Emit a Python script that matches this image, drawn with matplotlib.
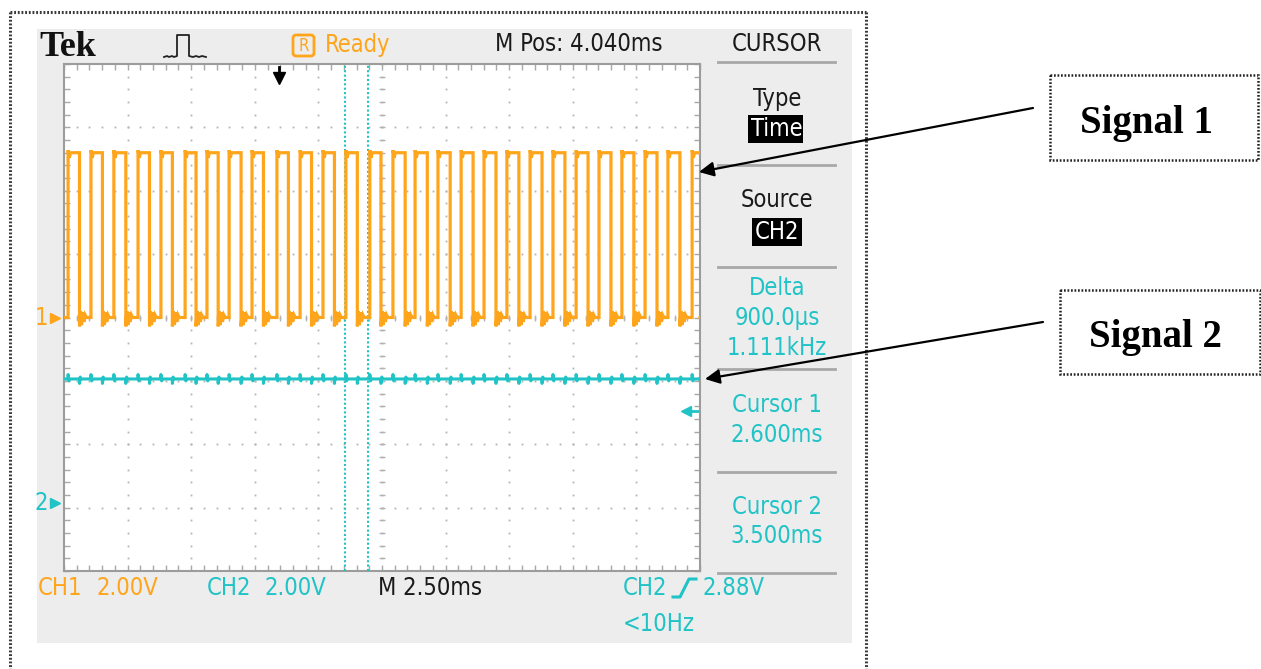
import numpy as np
import matplotlib
matplotlib.use("Agg")
import matplotlib.pyplot as plt
from matplotlib.patches import Rectangle, FancyBboxPatch
import matplotlib.transforms as mtransforms
from matplotlib import font_manager as fm

# ---------------- data ----------------
m_pos_ms = 4.040          # horizontal position (screen centre), ms
time_per_div_ms = 2.50    # M 2.50ms
ch1_volts_per_div = 2.00
ch2_volts_per_div = 2.00
ch1_ground_div = 0.0      # CH1 ground marker (divisions from centre)
ch2_ground_div = -2.92    # CH2 ground marker
trigger_time_ms = 0.0
trigger_level_v = 2.88    # CH2 trigger level
cursor_times_ms = [2.600, 3.500]

# Signal 1 (CH1) square wave: rising / falling edge times (ms) and levels (V)
sig1_rise_ms = [-8.30, -7.40, -6.50, -5.55, -4.65, -3.70, -2.84, -1.97, -1.07, -0.09,
                0.82, 1.72, 2.62, 3.56, 4.47, 5.34, 6.24, 7.15, 8.05, 8.95,
                9.86, 10.76, 11.67, 12.57, 13.47, 14.38, 15.28, 16.23]
sig1_fall_ms = [-7.85, -6.95, -6.03, -5.10, -4.20, -3.27, -2.40, -1.50, -0.62, 0.36,
                1.27, 2.17, 3.07, 4.00, 4.95, 5.82, 6.72, 7.62, 8.52, 9.42,
                10.33, 11.23, 12.14, 13.04, 13.94, 14.85, 15.75, 16.70]
sig1_low_v = 0.0
sig1_high_v = 5.2

# Signal 2 (CH2): flat level (V)
sig2_level_v = 3.9

# panel texts
panel_texts = ["Type", "Source", "Delta", "900.0\u00b5s", "1.111kHz",
               "Cursor 1", "2.600ms", "Cursor 2", "3.500ms"]

# ---------------- styles ----------------
ORANGE = "#FFA51C"
CYAN = "#20C3C6"
GRAYBG = "#EDEDED"
SEP = "#A8A8A8"
GRID = "#B4B4B4"
W, H = 1261, 669

# choose a condensed sans if present, otherwise a narrower regular one
_cond = fm.findfont(fm.FontProperties(family="DejaVu Sans", stretch="condensed"),
                    fallback_to_default=True)
if "ondensed" in _cond:
    ST = dict(family=["DejaVu Sans"], stretch="condensed", fontsize=17)
else:
    ST = dict(family=["Liberation Sans", "DejaVu Sans"], fontsize=16.5)

def T(axh, x, y, s, **kw):
    d = dict(ST)
    d.update(kw)
    return axh.text(x, y, s, **d)

fig = plt.figure(figsize=(W / 100, H / 100), dpi=100)
fig.patch.set_facecolor("white")

# background overlay in pixel coordinates
bg = fig.add_axes([0, 0, 1, 1], zorder=0)
bg.set_xlim(0, W); bg.set_ylim(H, 0); bg.axis("off")

# outer dotted border
bd = dict(color="#3a3a3a", lw=2.2, linestyle=(0, (0.6, 0.6)))
bg.plot([10, 10], [12, H], **bd)
bg.plot([10, 866], [12, 12], **bd)
bg.plot([866, 866], [12, H], **bd)

# scope grey panel
bg.add_patch(Rectangle((37, 29), 815, 614, facecolor=GRAYBG, edgecolor="none"))

# header texts
bg.text(39, 47, "Tek", family=["Liberation Serif", "DejaVu Serif"], weight="bold",
        fontsize=26, va="center", ha="left", color="#111111")
# pulse icon
bg.plot([164, 167, 169, 172, 174, 177, 177, 189, 189, 193, 196, 199, 202, 206],
        [57, 56, 57, 56, 57, 56, 35, 35, 56, 57, 56, 57, 56, 57], color="#222222", lw=1.3)
# R box + Ready
bg.add_patch(FancyBboxPatch((293, 35), 21, 21, boxstyle="round,pad=0,rounding_size=3",
                            facecolor="none", edgecolor=ORANGE, lw=2))
T(bg, 303.5, 46, "R", fontsize=12, color=ORANGE, ha="center", va="center")
T(bg, 325, 45, "Ready", color=ORANGE, ha="left", va="center")
T(bg, 495, 44, "M Pos: 4.040ms", color="#1a1a1a", ha="left", va="center")
T(bg, 777, 44, "CURSOR", color="#1a1a1a", ha="center", va="center")

# right panel separators
for ys in [62, 165, 267, 369, 472, 573]:
    bg.plot([718, 835], [ys, ys], color=SEP, lw=2)

cx = 777
T(bg, cx, 99, panel_texts[0], color="#1a1a1a", ha="center", va="center")
bg.add_patch(Rectangle((748, 115), 55, 28, facecolor="black", edgecolor="none"))
T(bg, cx, 129, "Time", color="white", ha="center", va="center")
T(bg, cx, 200, panel_texts[1], color="#1a1a1a", ha="center", va="center")
bg.add_patch(Rectangle((752, 218), 50, 28, facecolor="black", edgecolor="none"))
T(bg, cx, 232, "CH2", color="white", ha="center", va="center")
for txt, yy in zip(panel_texts[2:], [288, 318, 348, 405, 435, 507, 536]):
    T(bg, cx, yy, txt, color=CYAN, ha="center", va="center")

# bottom status line
T(bg, 38, 588, "CH1", color=ORANGE, ha="left", va="center")
T(bg, 97, 588, f"{ch1_volts_per_div:.2f}V", color=ORANGE, ha="left", va="center")
T(bg, 207, 588, "CH2", color=CYAN, ha="left", va="center")
T(bg, 265, 588, f"{ch2_volts_per_div:.2f}V", color=CYAN, ha="left", va="center")
T(bg, 378, 588, f"M {time_per_div_ms:.2f}ms", color="#1a1a1a", ha="left", va="center")
T(bg, 623, 588, "CH2", color=CYAN, ha="left", va="center")
bg.plot([673, 680, 689, 696], [597, 597, 579, 579], color=CYAN, lw=2.2)
T(bg, 703, 588, f"{trigger_level_v:.2f}V", color=CYAN, ha="left", va="center")
T(bg, 623, 624, "<10Hz", color=CYAN, ha="left", va="center")

# Signal label boxes
lbl = dict(family=["Liberation Serif", "DejaVu Serif"], weight="bold", fontsize=28,
           color="black", ha="center", va="center")
boxs = dict(facecolor="white", edgecolor="#222222", lw=1.8, linestyle=(0, (0.7, 0.7)))
bg.add_patch(Rectangle((1050, 75), 208, 85, **boxs))
bg.text(1146, 124, "Signal 1", **lbl)
bg.add_patch(Rectangle((1060, 290), 200, 84, **boxs))
bg.text(1155, 338, "Signal 2", **lbl)

# ---------------- scope screen ----------------
x0, x1, y0, y1 = 64, 700, 64, 571
ax = fig.add_axes([x0 / W, 1 - y1 / H, (x1 - x0) / W, (y1 - y0) / H], zorder=1)
t_left = m_pos_ms - 5 * time_per_div_ms
t_right = m_pos_ms + 5 * time_per_div_ms
ax.set_xlim(t_left, t_right)
ax.set_ylim(-4, 4)
ax.set_facecolor("white")
for s in ax.spines.values():
    s.set_color("#9C9C9C"); s.set_linewidth(1.5)
ax.set_xticks(t_left + np.arange(0, 11) * time_per_div_ms)
ax.set_xticks(t_left + np.arange(0, 51) * time_per_div_ms / 5, minor=True)
ax.set_yticks(np.arange(-4, 5))
ax.set_yticks(np.arange(-4, 4.01, 0.2), minor=True)
ax.tick_params(which="both", direction="in", length=4, width=1, color="#A8A8A8",
               top=True, right=True, labelleft=False, labelbottom=False)

# dotted graticule
minor_y = np.arange(-4, 4.01, 0.2)
minor_x = t_left + np.arange(0, 51) * time_per_div_ms / 5
for k in range(1, 10):
    xv = t_left + k * time_per_div_ms
    ax.plot(np.full_like(minor_y, xv), minor_y, ls="none", marker="s", ms=1.3, color=GRID,
            markeredgewidth=0)
for yv in range(-3, 4):
    ax.plot(minor_x, np.full_like(minor_x, yv), ls="none", marker="s", ms=1.3, color=GRID,
            markeredgewidth=0)
# centre crosshair tick marks
ax.plot(np.full_like(minor_y, m_pos_ms), minor_y, ls="none", marker="_", ms=5, color=GRID)
ax.plot(minor_x, np.zeros_like(minor_x), ls="none", marker="|", ms=5, color=GRID)

# cursors
for ct in cursor_times_ms:
    ax.axvline(ct, color=CYAN, lw=1.5, ls=(0, (1, 1.1)), zorder=3)

# Signal 1 trace
lo = ch1_ground_div + sig1_low_v / ch1_volts_per_div
hi = ch1_ground_div + sig1_high_v / ch1_volts_per_div
xs, ys = [t_left], [lo]
ring_dt = [0.0, 0.04, 0.08, 0.12, 0.17, 0.22, 0.27]
ring_dy = [-0.14, 0.10, -0.12, 0.08, -0.07, 0.04, 0.0]
for r, f in zip(sig1_rise_ms, sig1_fall_ms):
    xs += [r, r, r + 0.05, r + 0.09, f, f]
    ys += [lo, hi + 0.04, hi - 0.08, hi, hi, lo]
    xs += [f + d for d in ring_dt]
    ys += [lo + d for d in ring_dy]
xs.append(t_right); ys.append(ys[-1])
ax.plot(xs, ys, color=ORANGE, lw=2.3, solid_joinstyle="miter", zorder=4)

# Signal 2 trace with small crosstalk spikes at CH1 edges
lvl2 = ch2_ground_div + sig2_level_v / ch2_volts_per_div
edges = sorted([(t, 1) for t in sig1_rise_ms] + [(t, -1) for t in sig1_fall_ms])
x2, y2 = [t_left], [lvl2]
for t, sgn in edges:
    x2 += [t, t, t + 0.03, t + 0.06]
    y2 += [lvl2, lvl2 + 0.07 * sgn, lvl2 - 0.03 * sgn, lvl2]
x2.append(t_right); y2.append(lvl2)
ax.plot(x2, y2, color=CYAN, lw=2.2, zorder=4)

# channel ground markers (left edge, outside the screen)
blend = mtransforms.blended_transform_factory(ax.transAxes, ax.transData)
for lab, gy, col in [("1", ch1_ground_div, ORANGE), ("2", ch2_ground_div, CYAN)]:
    T(ax, -0.035, gy, lab, transform=blend, color=col, ha="center", va="center", clip_on=False)
    ax.plot([-0.014], [gy], transform=blend, marker=">", ms=7, color=col, clip_on=False)

# trigger level marker (right edge)
trig_div = ch2_ground_div + trigger_level_v / ch2_volts_per_div
ax.plot([0.977, 0.997], [trig_div, trig_div], transform=blend, color=CYAN, lw=2, clip_on=False)
ax.plot([0.978], [trig_div], transform=blend, marker="<", ms=7, color=CYAN, clip_on=False)

# trigger position marker (top)
blend2 = mtransforms.blended_transform_factory(ax.transData, ax.transAxes)
ax.plot([trigger_time_ms, trigger_time_ms], [0.995, 0.975], transform=blend2, color="black",
        lw=2, clip_on=False, zorder=5)
ax.plot([trigger_time_ms], [0.972], transform=blend2, marker="v", ms=8, color="black",
        clip_on=False, zorder=5)

# ---------------- foreground: arrows ----------------
fg = fig.add_axes([0, 0, 1, 1], zorder=3)
fg.set_xlim(0, W); fg.set_ylim(H, 0); fg.axis("off"); fg.patch.set_alpha(0)
ap = dict(arrowstyle="-|>", color="black", lw=1.6, mutation_scale=22, shrinkA=0, shrinkB=0)
fg.annotate("", xy=(699, 172), xytext=(1033, 108), arrowprops=ap)
fg.annotate("", xy=(705, 379), xytext=(1043, 322), arrowprops=ap)

fig.savefig("out.png", dpi=100)
